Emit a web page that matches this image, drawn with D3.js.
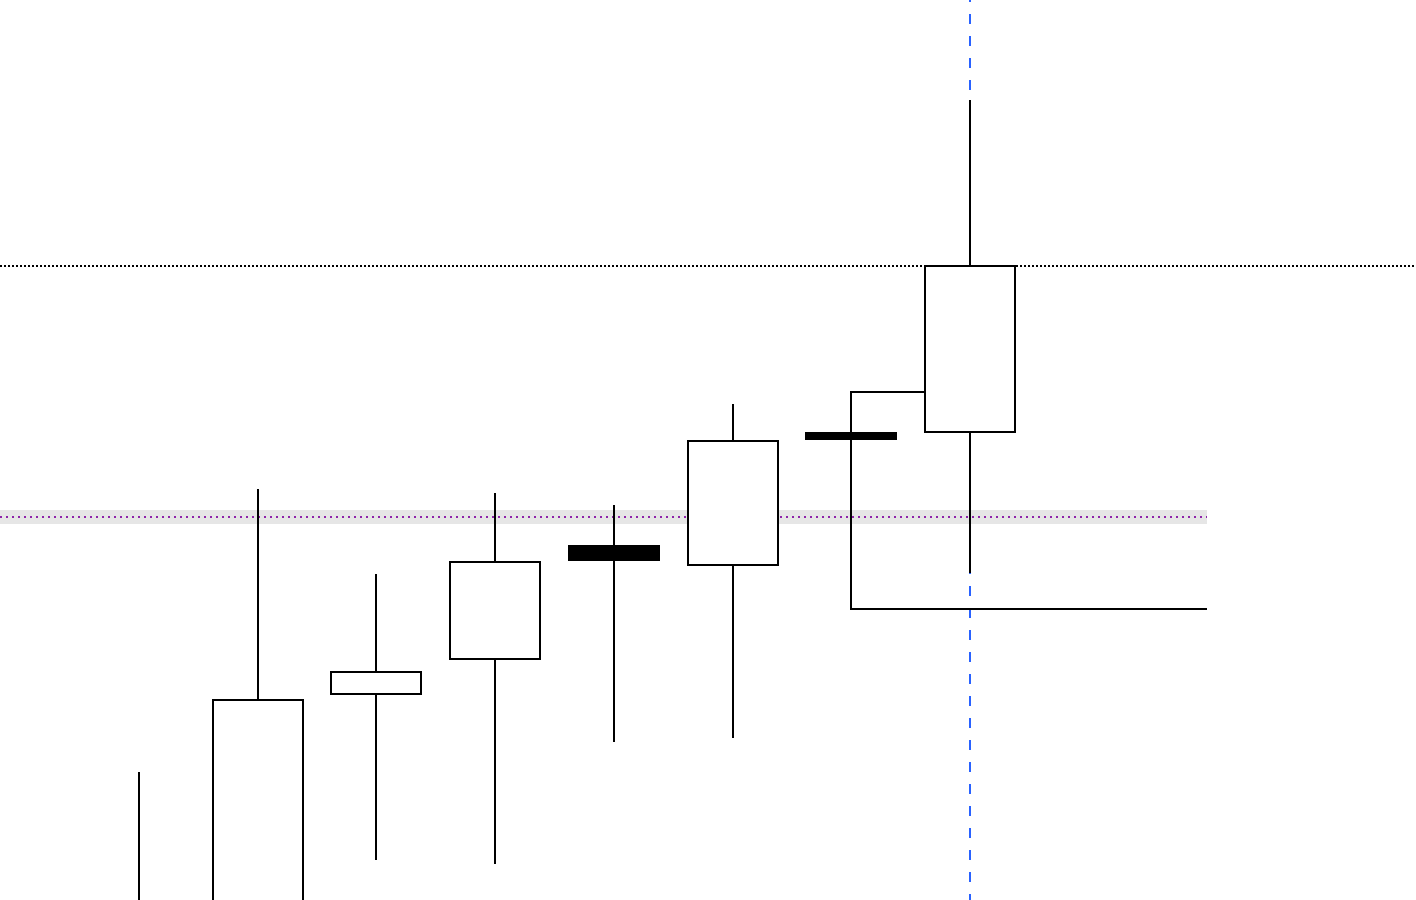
<!DOCTYPE html>
<html><head><meta charset="utf-8">
<script src="https://cdn.jsdelivr.net/npm/d3@7"></script>
<style>html,body{margin:0;padding:0;background:#fff;overflow:hidden}</style>
</head><body>
<svg id="c" width="1416" height="900"></svg>
<script>
// Data (price units)
const idx   = [0, 1, 2, 3, 4, 5, 6, 7];
const open  = [85.0, 85.0, 110.6, 114.1, 125.4, 123.5, 136.7, 136.8];
const close = [88.0, 110.0, 112.8, 123.8, 124.0, 135.9, 136.1, 153.4];
const high  = [102.8, 131.1, 122.6, 130.7, 129.5, 139.6, 136.7, 170.0];
const low   = [80.0, 82.0, 94.0, 93.6, 105.8, 106.2, 136.1, 122.7];
// Reference lines
const purpleLevel = 128.3, purpleBand = 0.7;
const blackLevel = 153.4;
const crossIndex = 7;
// Step line (index, price)
const stepPts = [[7, 140.8], [6, 140.8], [6, 119.1], [9, 119.1]];

const W = 1416, H = 900;
const svg = d3.select("#c");
const x = d3.scaleLinear().domain([0, 7]).range([139, 970]);
const y = d3.scaleLinear().domain([90, 180]).range([H, 0]);
const cx = i => Math.round(x(i));
const bw = 92;

// Purple band and line
svg.append("rect").attr("x", 0).attr("width", cx(9))
  .attr("y", y(purpleLevel + purpleBand)).attr("height", y(purpleLevel - purpleBand) - y(purpleLevel + purpleBand))
  .attr("fill", "#e6e6e6");
svg.append("line").attr("x1", 0).attr("x2", cx(9)).attr("y1", y(purpleLevel)).attr("y2", y(purpleLevel))
  .attr("stroke", "#8e24aa").attr("stroke-width", 2).attr("stroke-dasharray", "2,4");

// Blue dashed vertical
svg.append("line").attr("x1", cx(crossIndex)).attr("x2", cx(crossIndex)).attr("y1", 0).attr("y2", H)
  .attr("stroke", "#2962ff").attr("stroke-width", 2).attr("stroke-dasharray", "10,12").attr("stroke-dashoffset", 8);

// Black dotted horizontal
svg.append("line").attr("x1", 0).attr("x2", W).attr("y1", y(blackLevel)).attr("y2", y(blackLevel))
  .attr("stroke", "#000").attr("stroke-width", 2).attr("stroke-dasharray", "2,2");

// Step line
svg.append("path").attr("d", d3.line().x(d => cx(d[0])).y(d => y(d[1]))(stepPts))
  .attr("fill", "none").attr("stroke", "#000").attr("stroke-width", 2);

// Candles
const data = idx.map((i, k) => ({i, o: open[k], c: close[k], h: high[k], l: low[k]}));
const g = svg.append("g");
g.selectAll("line.w").data(data).join("line").attr("class", "w")
  .attr("x1", d => cx(d.i)).attr("x2", d => cx(d.i))
  .attr("y1", d => y(d.h)).attr("y2", d => y(d.l))
  .attr("stroke", "#000").attr("stroke-width", 2);
g.selectAll("rect.b").data(data).join("rect").attr("class", "b")
  .attr("x", d => cx(d.i) - bw / 2 + 1).attr("width", bw - 2)
  .attr("y", d => y(Math.max(d.o, d.c)))
  .attr("height", d => Math.abs(y(d.o) - y(d.c)))
  .attr("fill", d => d.c >= d.o ? "#fff" : "#000")
  .attr("stroke", "#000").attr("stroke-width", 2);
</script>
</body></html>
